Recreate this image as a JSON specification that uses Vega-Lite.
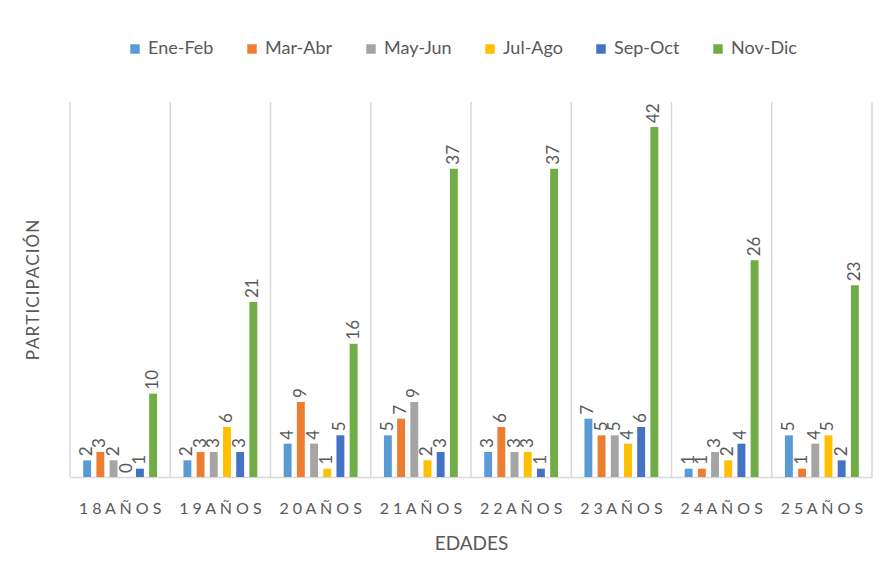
{
  "$schema": "https://vega.github.io/schema/vega-lite/v6.json",
  "width": 802,
  "height": 375,
  "autosize": {"type": "none"},
  "padding": {"left": 70, "top": 102, "right": 15, "bottom": 105},
  "background": "white",
  "config": {
    "font": "Lato",
    "view": {"stroke": null}
  },
  "datasets": {
    "edades": [
      {"edad": "18AÑOS"}, {"edad": "19AÑOS"}, {"edad": "20AÑOS"}, {"edad": "21AÑOS"},
      {"edad": "22AÑOS"}, {"edad": "23AÑOS"}, {"edad": "24AÑOS"}, {"edad": "25AÑOS"}
    ],
    "ultima": [{"edad": "25AÑOS"}],
    "participacion": [
      {"edad": "18AÑOS", "periodo": "Ene-Feb", "valor": 2},
      {"edad": "18AÑOS", "periodo": "Mar-Abr", "valor": 3},
      {"edad": "18AÑOS", "periodo": "May-Jun", "valor": 2},
      {"edad": "18AÑOS", "periodo": "Jul-Ago", "valor": 0},
      {"edad": "18AÑOS", "periodo": "Sep-Oct", "valor": 1},
      {"edad": "18AÑOS", "periodo": "Nov-Dic", "valor": 10},
      {"edad": "19AÑOS", "periodo": "Ene-Feb", "valor": 2},
      {"edad": "19AÑOS", "periodo": "Mar-Abr", "valor": 3},
      {"edad": "19AÑOS", "periodo": "May-Jun", "valor": 3},
      {"edad": "19AÑOS", "periodo": "Jul-Ago", "valor": 6},
      {"edad": "19AÑOS", "periodo": "Sep-Oct", "valor": 3},
      {"edad": "19AÑOS", "periodo": "Nov-Dic", "valor": 21},
      {"edad": "20AÑOS", "periodo": "Ene-Feb", "valor": 4},
      {"edad": "20AÑOS", "periodo": "Mar-Abr", "valor": 9},
      {"edad": "20AÑOS", "periodo": "May-Jun", "valor": 4},
      {"edad": "20AÑOS", "periodo": "Jul-Ago", "valor": 1},
      {"edad": "20AÑOS", "periodo": "Sep-Oct", "valor": 5},
      {"edad": "20AÑOS", "periodo": "Nov-Dic", "valor": 16},
      {"edad": "21AÑOS", "periodo": "Ene-Feb", "valor": 5},
      {"edad": "21AÑOS", "periodo": "Mar-Abr", "valor": 7},
      {"edad": "21AÑOS", "periodo": "May-Jun", "valor": 9},
      {"edad": "21AÑOS", "periodo": "Jul-Ago", "valor": 2},
      {"edad": "21AÑOS", "periodo": "Sep-Oct", "valor": 3},
      {"edad": "21AÑOS", "periodo": "Nov-Dic", "valor": 37},
      {"edad": "22AÑOS", "periodo": "Ene-Feb", "valor": 3},
      {"edad": "22AÑOS", "periodo": "Mar-Abr", "valor": 6},
      {"edad": "22AÑOS", "periodo": "May-Jun", "valor": 3},
      {"edad": "22AÑOS", "periodo": "Jul-Ago", "valor": 3},
      {"edad": "22AÑOS", "periodo": "Sep-Oct", "valor": 1},
      {"edad": "22AÑOS", "periodo": "Nov-Dic", "valor": 37},
      {"edad": "23AÑOS", "periodo": "Ene-Feb", "valor": 7},
      {"edad": "23AÑOS", "periodo": "Mar-Abr", "valor": 5},
      {"edad": "23AÑOS", "periodo": "May-Jun", "valor": 5},
      {"edad": "23AÑOS", "periodo": "Jul-Ago", "valor": 4},
      {"edad": "23AÑOS", "periodo": "Sep-Oct", "valor": 6},
      {"edad": "23AÑOS", "periodo": "Nov-Dic", "valor": 42},
      {"edad": "24AÑOS", "periodo": "Ene-Feb", "valor": 1},
      {"edad": "24AÑOS", "periodo": "Mar-Abr", "valor": 1},
      {"edad": "24AÑOS", "periodo": "May-Jun", "valor": 3},
      {"edad": "24AÑOS", "periodo": "Jul-Ago", "valor": 2},
      {"edad": "24AÑOS", "periodo": "Sep-Oct", "valor": 4},
      {"edad": "24AÑOS", "periodo": "Nov-Dic", "valor": 26},
      {"edad": "25AÑOS", "periodo": "Ene-Feb", "valor": 5},
      {"edad": "25AÑOS", "periodo": "Mar-Abr", "valor": 1},
      {"edad": "25AÑOS", "periodo": "May-Jun", "valor": 4},
      {"edad": "25AÑOS", "periodo": "Jul-Ago", "valor": 5},
      {"edad": "25AÑOS", "periodo": "Sep-Oct", "valor": 2},
      {"edad": "25AÑOS", "periodo": "Nov-Dic", "valor": 23}
    ]
  },
  "layer": [
    {
      "data": {"name": "participacion"},
      "mark": {"type": "bar"},
      "encoding": {
        "x": {
          "field": "edad", "type": "nominal",
          "scale": {"paddingInner": 0, "paddingOuter": 0},
          "axis": {
            "bandPosition": 0.5,
            "labelAlign": "center",
            "labelAngle": 0,
            "ticks": false,
            "grid": false,
            "domainColor": "#d9d9d9",
            "domainWidth": 1.5,
            "labelExpr": "join(split(datum.label, ''), ' ')",
            "labelFontSize": 16,
            "labelColor": "#595959",
            "labelPadding": 23,
            "title": "EDADES",
            "titleFontSize": 19,
            "titleFontWeight": "normal",
            "titleColor": "#595959",
            "titlePadding": 18
          }
        },
        "xOffset": {
          "field": "periodo", "type": "nominal",
          "sort": ["Ene-Feb", "Mar-Abr", "May-Jun", "Jul-Ago", "Sep-Oct", "Nov-Dic"],
          "scale": {"paddingInner": 0.4, "paddingOuter": 1.18}
        },
        "y": {
          "field": "valor", "type": "quantitative",
          "scale": {"domain": [0, 45], "nice": false},
          "axis": {
            "labels": false,
            "ticks": false,
            "domain": false,
            "grid": false,
            "title": "P\u200aA\u200aR\u200aT\u200aI\u200aC\u200aI\u200aP\u200aA\u200aC\u200aI\u200aÓ\u200aN",
            "titleFontSize": 17,
            "titleFontWeight": "normal",
            "titleColor": "#595959",
            "titlePadding": 28
          }
        },
        "color": {
          "field": "periodo", "type": "nominal",
          "sort": ["Ene-Feb", "Mar-Abr", "May-Jun", "Jul-Ago", "Sep-Oct", "Nov-Dic"],
          "scale": {
            "domain": ["Ene-Feb", "Mar-Abr", "May-Jun", "Jul-Ago", "Sep-Oct", "Nov-Dic"],
            "range": ["#5b9bd5", "#ed7d31", "#a5a5a5", "#ffc000", "#4472c4", "#70ad47"]
          },
          "legend": {
            "title": null,
            "orient": "none",
            "direction": "horizontal",
            "legendX": 56,
            "legendY": -62,
            "padding": 0,
            "symbolType": "square",
            "symbolSize": 90,
            "symbolStrokeWidth": 0,
            "labelFontSize": 18,
            "labelColor": "#595959",
            "labelOffset": 4,
            "columnPadding": 29
          }
        }
      }
    },
    {
      "data": {"name": "edades"},
      "mark": {"type": "rule", "color": "#d9d9d9", "strokeWidth": 1.5},
      "encoding": {
        "x": {"field": "edad", "type": "nominal", "bandPosition": 0}
      }
    },
    {
      "data": {"name": "ultima"},
      "mark": {"type": "rule", "color": "#d9d9d9", "strokeWidth": 1.5},
      "encoding": {
        "x": {"field": "edad", "type": "nominal", "bandPosition": 1}
      }
    },
    {
      "data": {"name": "participacion"},
      "mark": {"type": "text", "angle": -90, "align": "left", "baseline": "middle", "dx": 4, "fontSize": 17, "color": "#595959"},
      "encoding": {
        "x": {"field": "edad", "type": "nominal"},
        "xOffset": {"field": "periodo", "type": "nominal", "sort": ["Ene-Feb", "Mar-Abr", "May-Jun", "Jul-Ago", "Sep-Oct", "Nov-Dic"]},
        "y": {"field": "valor", "type": "quantitative"},
        "text": {"field": "valor", "type": "quantitative"}
      }
    }
  ]
}
